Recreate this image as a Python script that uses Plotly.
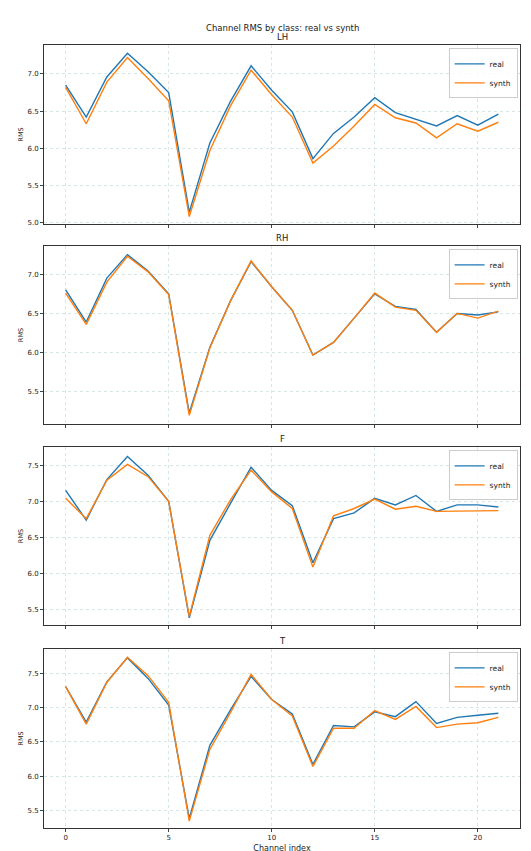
import plotly.graph_objects as go

channels = list(range(22))
classes = ["LH", "RH", "F", "T"]
real = {
    "LH": [6.85, 6.42, 6.96, 7.28, 7.03, 6.75, 5.14, 6.07, 6.63, 7.11, 6.78, 6.49, 5.86, 6.20, 6.42, 6.68, 6.48, 6.39, 6.30, 6.44, 6.31, 6.46],
    "RH": [6.80, 6.39, 6.95, 7.25, 7.04, 6.75, 5.23, 6.07, 6.66, 7.16, 6.84, 6.54, 5.97, 6.13, 6.44, 6.75, 6.59, 6.55, 6.26, 6.50, 6.48, 6.52],
    "F": [7.15, 6.74, 7.30, 7.62, 7.36, 7.00, 5.39, 6.46, 6.97, 7.47, 7.15, 6.94, 6.15, 6.76, 6.84, 7.04, 6.95, 7.08, 6.86, 6.95, 6.95, 6.92],
    "T": [7.31, 6.79, 7.38, 7.73, 7.43, 7.04, 5.38, 6.45, 6.97, 7.46, 7.12, 6.91, 6.17, 6.74, 6.72, 6.94, 6.87, 7.09, 6.77, 6.86, 6.89, 6.92],
}
synth = {
    "LH": [6.82, 6.33, 6.89, 7.22, 6.94, 6.64, 5.08, 5.97, 6.57, 7.05, 6.72, 6.42, 5.80, 6.03, 6.30, 6.59, 6.41, 6.34, 6.14, 6.33, 6.23, 6.35],
    "RH": [6.76, 6.36, 6.90, 7.23, 7.03, 6.74, 5.20, 6.06, 6.66, 7.17, 6.84, 6.54, 5.97, 6.13, 6.44, 6.76, 6.58, 6.54, 6.26, 6.50, 6.44, 6.53],
    "F": [7.04, 6.76, 7.29, 7.51, 7.34, 7.00, 5.41, 6.53, 7.02, 7.43, 7.13, 6.90, 6.09, 6.80, 6.90, 7.03, 6.89, 6.93, 6.86, 6.86, 6.87, 6.87],
    "T": [7.31, 6.76, 7.37, 7.74, 7.47, 7.08, 5.34, 6.39, 6.93, 7.49, 7.12, 6.88, 6.14, 6.70, 6.70, 6.96, 6.83, 7.02, 6.71, 6.76, 6.78, 6.86],
}
yranges = {"LH": [4.98, 7.39], "RH": [5.09, 7.36], "F": [5.29, 7.75], "T": [5.24, 7.86]}
y_ticks = {"LH": [5.0, 5.5, 6.0, 6.5, 7.0], "RH": [5.5, 6.0, 6.5, 7.0],
           "F": [5.5, 6.0, 6.5, 7.0, 7.5], "T": [5.5, 6.0, 6.5, 7.0, 7.5]}
x_ticks = [0, 5, 10, 15, 20]

H = 851
panels_px = [(37, 216), (238, 416), (439, 617), (641, 820)]
BLUE, ORANGE = "#1f77b4", "#ff7f0e"
fig = go.Figure()
layout = dict(
    width=531, height=851, plot_bgcolor="white", paper_bgcolor="white",
    margin=dict(l=36, r=19, t=0, b=0, autoexpand=False),
    font=dict(family="DejaVu Sans", size=7, color="#222"),
)
annotations = [dict(text="Channel RMS by class: real vs synth", x=0.5, xref="paper",
                    y=1 - 20 / H, yref="paper", showarrow=False, yanchor="middle",
                    font=dict(size=8.5))]
for i, c in enumerate(classes):
    n = i + 1
    sfx = "" if n == 1 else str(n)
    top, bot = panels_px[i]
    dom = [1 - bot / H, 1 - top / H]
    leg = "legend" if n == 1 else f"legend{n}"
    fig.add_trace(go.Scatter(x=channels, y=real[c], mode="lines", name="real",
                             line=dict(color=BLUE, width=1.4), xaxis="x" + sfx, yaxis="y" + sfx, legend=leg))
    fig.add_trace(go.Scatter(x=channels, y=synth[c], mode="lines", name="synth",
                             line=dict(color=ORANGE, width=1.4), xaxis="x" + sfx, yaxis="y" + sfx, legend=leg))
    layout["xaxis" + sfx] = dict(domain=[0, 1], anchor="y" + sfx, range=[-1.05, 22.05], automargin=False,
                                 tickvals=x_ticks, showticklabels=(n == 4), ticks="outside", ticklen=3,
                                 showgrid=True, gridcolor="#d8e6e6", griddash="dot", gridwidth=1,
                                 showline=True, linecolor="#333", mirror=True, zeroline=False,
                                 title=dict(text="Channel index", standoff=3) if n == 4 else None)
    layout["yaxis" + sfx] = dict(domain=dom, anchor="x" + sfx, range=yranges[c], automargin=False,
                                 tickvals=y_ticks[c], tickformat=".1f", ticks="outside", ticklen=3,
                                 showgrid=True, gridcolor="#d8e6e6", griddash="dot", gridwidth=1,
                                 showline=True, linecolor="#333", mirror=True, zeroline=False,
                                 title=dict(text="RMS", standoff=3, font=dict(size=6.5)))
    layout[leg] = dict(x=0.995, y=dom[1] - 0.004, xanchor="right", yanchor="top",
                       bordercolor="#ccc", borderwidth=1, bgcolor="rgba(255,255,255,0.8)",
                       font=dict(size=7.5), tracegroupgap=0, itemwidth=30)
    annotations.append(dict(text=c, x=0.5, xref="paper", y=dom[1], yref="paper",
                            yanchor="bottom", showarrow=False, font=dict(size=8.5), yshift=1))
layout["annotations"] = annotations
fig.update_layout(**layout)
fig.write_html("out.html")
